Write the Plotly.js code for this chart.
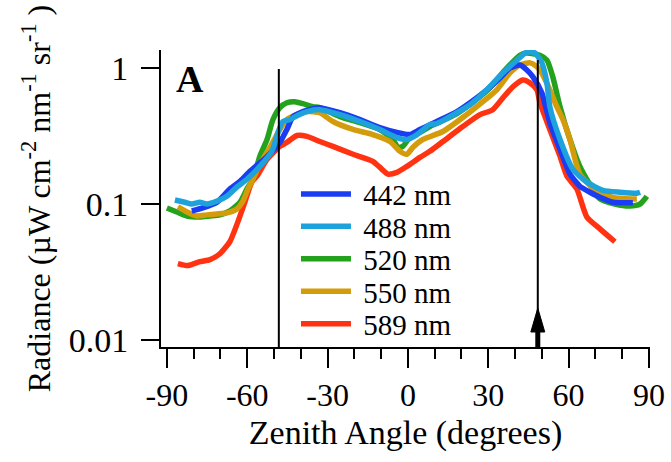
<!DOCTYPE html>
<html>
<head>
<meta charset="utf-8">
<script src="https://cdn.plot.ly/plotly-3.0.1.min.js"></script>
<style>
  html, body { margin: 0; padding: 0; background: #ffffff; }
  #chart { width: 671px; height: 462px; }
</style>
</head>
<body>
<div id="chart"></div>
<script>
// ---- data (zenith angle in degrees, radiance in µW cm^-2 nm^-1 sr^-1) ----
const SERIES_NAMES = ['442 nm', '488 nm', '520 nm', '550 nm', '589 nm'];

const ANGLE_442 = [-80.7,-76.6,-71.3,-66.5,-62.7,-59.0,-52.6,-47.8,-45.2,-42.9,-39.2,-35.5,-32.9,-25.4,-17.9,-10.5,-4.1,0.7,4.5,10.8,18.3,23.2,29.5,34.4,38.1,41.8,44.4,46.7,50.0,53.0,56.8,60.5,64.2,68.0,71.7,76.5,84.0];
const RAD_442 = [0.0889,0.0935,0.103,0.129,0.147,0.174,0.224,0.284,0.353,0.439,0.478,0.502,0.511,0.469,0.417,0.365,0.336,0.324,0.353,0.404,0.478,0.555,0.691,0.845,1.0,1.05,0.967,0.860,0.657,0.397,0.252,0.166,0.135,0.122,0.112,0.103,0.102];

const ANGLE_488 = [-87.0,-83.3,-80.7,-77.7,-75.1,-71.3,-67.6,-63.9,-60.1,-55.3,-50.8,-48.5,-46.7,-44.1,-41.4,-37.7,-32.9,-25.4,-17.9,-10.5,-4.1,-0.4,3.4,8.2,10.8,18.3,23.2,29.5,35.5,40.7,44.4,47.4,50.0,51.9,53.0,56.8,61.6,66.8,72.8,79.2,85.5,86.7];
const RAD_488 = [0.107,0.103,0.100,0.103,0.100,0.105,0.114,0.133,0.152,0.189,0.244,0.336,0.404,0.417,0.446,0.478,0.494,0.454,0.404,0.353,0.308,0.298,0.324,0.384,0.390,0.469,0.537,0.691,0.920,1.14,1.31,1.29,1.09,0.777,0.519,0.298,0.180,0.145,0.126,0.122,0.120,0.122];

const ANGLE_520 = [-90.0,-86.3,-82.5,-77.7,-73.9,-70.2,-66.5,-62.7,-60.1,-57.9,-55.3,-52.6,-50.4,-47.8,-45.2,-42.2,-39.2,-35.5,-32.9,-25.4,-17.9,-10.5,-5.6,-3.7,-1.9,0.7,4.5,8.2,18.3,29.5,35.5,41.8,44.4,49.3,51.9,54.1,56.8,60.5,64.2,71.7,77.3,82.9,86.7,88.5,89.2];
const RAD_520 = [0.0935,0.0874,0.0817,0.0804,0.0817,0.0832,0.0889,0.103,0.129,0.152,0.224,0.298,0.417,0.511,0.555,0.565,0.546,0.519,0.511,0.439,0.397,0.353,0.298,0.261,0.265,0.308,0.336,0.371,0.462,0.68,0.93,1.24,1.29,1.24,1.14,0.86,0.519,0.298,0.189,0.109,0.100,0.0967,0.100,0.109,0.114];

const ANGLE_550 = [-85.9,-82.5,-78.8,-75.1,-71.3,-67.6,-63.9,-61.6,-59.7,-57.9,-55.3,-51.5,-47.8,-45.2,-41.4,-37.7,-32.9,-28.0,-20.5,-13.1,-6.7,-3.0,-0.4,1.9,5.6,13.1,20.5,28.0,33.2,38.1,41.8,45.6,48.2,49.3,53.0,55.6,57.9,60.5,64.2,70.6,76.5,84.0,85.5];
const RAD_550 = [0.0951,0.0874,0.0817,0.0832,0.0845,0.0860,0.0920,0.105,0.129,0.152,0.196,0.261,0.353,0.417,0.454,0.478,0.469,0.404,0.353,0.324,0.288,0.244,0.232,0.261,0.298,0.341,0.432,0.565,0.691,0.920,1.05,1.09,1.02,0.967,0.691,0.519,0.417,0.298,0.166,0.124,0.112,0.109,0.109];

const ANGLE_589 = [-85.9,-82.2,-77.7,-73.9,-70.2,-66.5,-63.5,-60.9,-58.3,-56.4,-52.6,-47.8,-45.2,-41.4,-37.7,-32.9,-28.0,-20.5,-13.1,-9.7,-7.5,-4.1,-0.4,4.5,8.2,13.1,20.5,26.9,31.7,35.5,39.2,42.9,45.6,48.2,49.3,53.0,56.8,59.4,63.1,66.8,71.7,77.3];
const RAD_589 = [0.0365,0.0353,0.0377,0.0390,0.0431,0.0528,0.0739,0.103,0.145,0.160,0.213,0.265,0.284,0.319,0.314,0.288,0.265,0.232,0.206,0.180,0.166,0.171,0.189,0.220,0.244,0.288,0.371,0.454,0.494,0.604,0.727,0.817,0.777,0.691,0.555,0.353,0.224,0.160,0.129,0.0804,0.0657,0.0528];

const X_TICK_VALUES = [-90, -60, -30, 0, 30, 60, 90];
const X_TICK_LABELS = ['-90', '-60', '-30', '0', '30', '60', '90'];
const Y_TICK_VALUES = [0.01, 0.1, 1];
const Y_TICK_LABELS = ['0.01', '0.1', '1'];

// marked angles (vertical reference lines)
const MARK_LEFT = -48.2;
const MARK_RIGHT = 48.5;

// ---- styling ----
const FONT = '"Liberation Serif", serif';
const COLORS = ['#1a3cf2', '#1ea2dc', '#25a21d', '#d49b0b', '#ff3312'];
const LW = 5.5;

const angles = [ANGLE_442, ANGLE_488, ANGLE_520, ANGLE_550, ANGLE_589];
const rads = [RAD_442, RAD_488, RAD_520, RAD_550, RAD_589];
const legendIds = ['legend', 'legend2', 'legend3', 'legend4', 'legend5'];

// draw order: red, green, orange, blue, light blue (last on top)
const drawOrder = [4, 2, 3, 0, 1];
const traces = drawOrder.map(i => ({
  type: 'scatter',
  mode: 'lines',
  name: '\u00A0' + SERIES_NAMES[i],
  x: angles[i],
  y: rads[i],
  line: { color: COLORS[i], width: LW, shape: 'spline', smoothing: 0.6 },
  legend: legendIds[i],
  showlegend: true,
  hoverinfo: 'skip'
}));

const legendRowsY = [0.515, 0.406, 0.297, 0.187, 0.078];
const legendBase = {
  x: 0.276, xanchor: 'left', yanchor: 'middle',
  bgcolor: 'rgba(0,0,0,0)', borderwidth: 0,
  font: { family: FONT, size: 29, color: '#000' },
  itemwidth: 50
};
const legends = {};
legendIds.forEach((id, k) => { legends[id] = Object.assign({}, legendBase, { y: legendRowsY[k] }); });

const layout = Object.assign({
  width: 671,
  height: 462,
  margin: { l: 161, r: 21, t: 50, b: 115, pad: 0 },
  paper_bgcolor: '#ffffff',
  plot_bgcolor: '#ffffff',
  font: { family: FONT, color: '#000' },
  showlegend: true,
  xaxis: {
    range: [-92.2, 90.4],
    showline: true, linecolor: '#000', linewidth: 2,
    showgrid: false, zeroline: false,
    ticks: 'outside', ticklen: 19, tickwidth: 2, tickcolor: '#000',
    tickmode: 'array', tickvals: X_TICK_VALUES, ticktext: X_TICK_LABELS,
    tickfont: { family: FONT, size: 32, color: '#000' },
    minor: { tickmode: 'linear', tick0: 0, dtick: 10, ticks: 'outside', ticklen: 10, tickwidth: 2, tickcolor: '#000', showgrid: false },
    title: { text: 'Zenith Angle (degrees)', font: { family: FONT, size: 34, color: '#000' }, standoff: 8 }
  },
  yaxis: {
    type: 'log',
    range: [-2.051, 0.132],
    showline: true, linecolor: '#000', linewidth: 2,
    showgrid: false, zeroline: false,
    ticks: 'outside', ticklen: 18, tickwidth: 2, tickcolor: '#000',
    tickmode: 'array', tickvals: Y_TICK_VALUES, ticktext: Y_TICK_LABELS,
    tickfont: { family: FONT, size: 34, color: '#000' },
    ticklabelstandoff: 6,
    title: { text: 'Radiance (µW cm<sup>-2</sup> nm<sup>-1</sup> sr<sup>-1</sup> )', font: { family: FONT, size: 32, color: '#000' }, standoff: 9 }
  },
  shapes: [
    { type: 'line', xref: 'x', yref: 'paper', x0: MARK_LEFT, x1: MARK_LEFT, y0: 0, y1: 0.936, line: { color: '#000', width: 2 } },
    { type: 'line', xref: 'x', yref: 'paper', x0: MARK_RIGHT, x1: MARK_RIGHT, y0: 0.05, y1: 0.966, line: { color: '#000', width: 2 } },
    { type: 'line', xref: 'x', yref: 'paper', x0: MARK_RIGHT, x1: MARK_RIGHT, y0: 0, y1: 0.06, line: { color: '#000', width: 5 } },
    { type: 'path', xref: 'x', yref: 'paper', fillcolor: '#000', line: { color: '#000', width: 1 },
      path: 'M' + (MARK_RIGHT - 2.6) + ',0.0505 L' + (MARK_RIGHT + 2.6) + ',0.0505 L' + MARK_RIGHT + ',0.131 Z' }
  ],
  annotations: [
    { text: '<b>A</b>', xref: 'paper', yref: 'paper', x: 0.059, y: 0.904, xanchor: 'center', yanchor: 'middle',
      showarrow: false, font: { family: FONT, size: 38, color: '#000' } }
  ]
}, legends);

Plotly.newPlot('chart', traces, layout, { displayModeBar: false, staticPlot: true });
</script>
</body>
</html>
